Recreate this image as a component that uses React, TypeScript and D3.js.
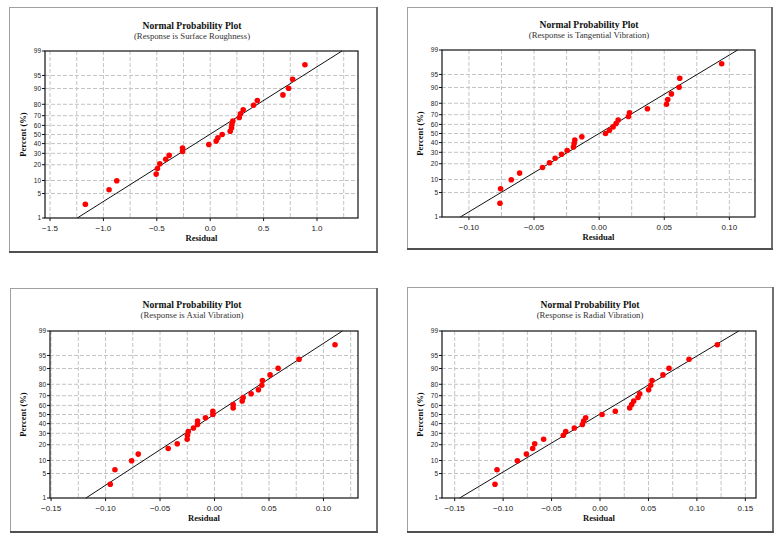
import React from "react";
import * as d3 from "d3";

const percents = [2.6, 6.2, 9.9, 13.5, 17.2, 20.8, 24.5, 28.1, 31.8, 35.4, 39.1, 42.7, 46.4, 50, 53.6, 57.3, 60.9, 64.6, 68.2, 71.9, 75.5, 79.2, 82.8, 86.5, 90.1, 93.8, 97.4];
const yTicks = [1, 5, 10, 20, 30, 40, 50, 60, 70, 80, 90, 95, 99];

const responses = ["Surface Roughness", "Tangential Vibration", "Axial Vibration", "Radial Vibration"];

const resSurface = [-1.169, -0.947, -0.875, -0.506, -0.494, -0.472, -0.416, -0.384, -0.259, -0.259, -0.013, 0.056, 0.072, 0.112, 0.187, 0.2, 0.203, 0.212, 0.272, 0.284, 0.309, 0.406, 0.441, 0.681, 0.734, 0.772, 0.887];
const resTangential = [-0.0762, -0.0757, -0.0675, -0.0611, -0.0435, -0.0381, -0.0338, -0.0289, -0.0246, -0.0197, -0.0192, -0.0187, -0.0133, 0.0049, 0.0079, 0.0107, 0.013, 0.0146, 0.0225, 0.0233, 0.0371, 0.0517, 0.0527, 0.0555, 0.0614, 0.0619, 0.0941];
const resAxial = [-0.0957, -0.0914, -0.0761, -0.07, -0.0425, -0.0342, -0.0251, -0.0248, -0.0241, -0.0193, -0.0156, -0.0156, -0.0083, -0.0015, -0.0015, 0.0171, 0.0171, 0.0254, 0.0263, 0.0336, 0.0403, 0.0434, 0.044, 0.051, 0.0584, 0.0776, 0.1106];
const resRadial = [-0.1084, -0.1063, -0.0853, -0.076, -0.0695, -0.0674, -0.0582, -0.0379, -0.0354, -0.0265, -0.0182, -0.0169, -0.0148, 0.0021, 0.0158, 0.0306, 0.0327, 0.0348, 0.0392, 0.041, 0.0502, 0.0523, 0.0537, 0.065, 0.0712, 0.0919, 0.1211];

// fitted line: residual at 1% and at 99%
const fitSurface = [-1.245, 1.234];
const fitTangential = [-0.1066, 0.1064];
const fitAxial = [-0.118, 0.1174];
const fitRadial = [-0.1449, 0.1432];

const xTicksSurface = [-1.5, -1.0, -0.5, 0, 0.5, 1.0];
const xTicksTangential = [-0.1, -0.05, 0, 0.05, 0.1];
const xTicksAxial = [-0.15, -0.1, -0.05, 0, 0.05, 0.1];
const xTicksRadial = [-0.15, -0.1, -0.05, 0, 0.05, 0.1, 0.15];

// inverse normal CDF (Acklam)
function probit(p: number): number {
  const a = [-3.969683028665376e1, 2.209460984245205e2, -2.759285104469687e2, 1.38357751867269e2, -3.066479806614716e1, 2.506628277459239];
  const b = [-5.447609879822406e1, 1.615858368580409e2, -1.556989798598866e2, 6.680131188771972e1, -1.328068155288572e1];
  const c = [-7.784894002430293e-3, -3.223964580411365e-1, -2.400758277161838, -2.549671324505583, 4.374664141464968, 2.938163982698783];
  const d = [7.784695709041462e-3, 3.224671290700398e-1, 2.445134137142996, 3.754408661907416];
  const pl = 0.02425;
  if (p < pl) {
    const q = Math.sqrt(-2 * Math.log(p));
    return (((((c[0] * q + c[1]) * q + c[2]) * q + c[3]) * q + c[4]) * q + c[5]) / ((((d[0] * q + d[1]) * q + d[2]) * q + d[3]) * q + 1);
  }
  if (p > 1 - pl) {
    const q = Math.sqrt(-2 * Math.log(1 - p));
    return -(((((c[0] * q + c[1]) * q + c[2]) * q + c[3]) * q + c[4]) * q + c[5]) / ((((d[0] * q + d[1]) * q + d[2]) * q + d[3]) * q + 1);
  }
  const q = p - 0.5;
  const r = q * q;
  return ((((((a[0] * r + a[1]) * r + a[2]) * r + a[3]) * r + a[4]) * r + a[5]) * q) / (((((b[0] * r + b[1]) * r + b[2]) * r + b[3]) * r + b[4]) * r + 1);
}

type PanelCfg = {
  frame: number[];
  plot: number[];
  xDomain: number[];
  gridStep: number;
  decimals: number;
  titleX: number;
  titleY: number;
  labelX: number;
  tickY: number;
  resY: number;
};

const layouts: PanelCfg[] = [
  { frame: [9, 7, 377, 252], plot: [45, 51, 358, 218], xDomain: [-1.547, 1.384], gridStep: 0.25, decimals: 1, titleX: 192, titleY: 29, labelX: 26, tickY: 231, resY: 241 },
  { frame: [407, 7, 772, 249], plot: [442, 50, 755, 217], xDomain: [-0.1207, 0.1197], gridStep: 0.025, decimals: 2, titleX: 589, titleY: 28, labelX: 423, tickY: 230, resY: 240 },
  { frame: [10, 288, 377, 532], plot: [50, 331, 358, 498], xDomain: [-0.151, 0.1317], gridStep: 0.025, decimals: 2, titleX: 192, titleY: 308, labelX: 26, tickY: 511, resY: 521 },
  { frame: [407, 287, 773, 532], plot: [442, 331, 756, 498], xDomain: [-0.1631, 0.161], gridStep: 0.025, decimals: 2, titleX: 590, titleY: 308, labelX: 423, tickY: 511, resY: 521 },
];

const residuals = [resSurface, resTangential, resAxial, resRadial];
const fits = [fitSurface, fitTangential, fitAxial, fitRadial];
const xTicks = [xTicksSurface, xTicksTangential, xTicksAxial, xTicksRadial];

const SERIF = "'Liberation Serif', 'Times New Roman', serif";
const SANS = "'Liberation Sans', Arial, sans-serif";

function Panel({ idx }: { idx: number }) {
  const L = layouts[idx];
  const [fx0, fy0, fx1, fy1] = L.frame;
  const [px0, py0, px1, py1] = L.plot;
  const zMax = probit(0.99);
  const x = d3.scaleLinear().domain(L.xDomain).range([px0, px1]);
  const yz = d3.scaleLinear().domain([-zMax, zMax]).range([py1, py0]);
  const y = (p: number) => yz(probit(p / 100));
  const res = residuals[idx];
  const fit = fits[idx];

  const gridXs: number[] = [];
  const start = Math.ceil(L.xDomain[0] / L.gridStep - 1e-6);
  const end = Math.floor(L.xDomain[1] / L.gridStep + 1e-6);
  for (let k = start; k <= end; k++) gridXs.push(k * L.gridStep);

  const line = d3.line<number[]>().x((d) => x(d[0])).y((d) => y(d[1]));
  const fmt = d3.format(`.${L.decimals}f`);

  return (
    <g>
      <rect x={fx0 + 0.5} y={fy0 + 0.5} width={fx1 - fx0} height={fy1 - fy0} fill="#fff" stroke="#a0a0a0" strokeWidth={1} />
      <line x1={fx1} y1={fy0} x2={fx1} y2={fy1 + 1} stroke="#707070" strokeWidth={2} />
      <line x1={fx0} y1={fy1} x2={fx1 + 1} y2={fy1} stroke="#505050" strokeWidth={2} />
      <text x={L.titleX} y={L.titleY} textAnchor="middle" fontFamily={SERIF} fontWeight="bold" fontSize={9.6} fill="#111">
        Normal Probability Plot
      </text>
      <text x={L.titleX} y={L.titleY + 10} textAnchor="middle" fontFamily={SERIF} fontSize={8.7} fill="#333">
        (Response is {responses[idx]})
      </text>
      {/* grid */}
      {gridXs.map((g, i) => (
        <line key={`gx${i}`} x1={x(g)} x2={x(g)} y1={py0} y2={py1} stroke="#c4c4c4" strokeWidth={1} strokeDasharray="4,2" />
      ))}
      {yTicks.slice(1, -1).map((t, i) => (
        <line key={`gy${i}`} x1={px0} x2={px1} y1={y(t)} y2={y(t)} stroke="#c4c4c4" strokeWidth={1} strokeDasharray="4,2" />
      ))}
      {/* fitted line */}
      <path d={line([[fit[0], 1], [fit[1], 99]]) || ""} fill="none" stroke="#111" strokeWidth={1} />
      {/* points */}
      {res.map((r, i) => (
        <circle key={`p${i}`} cx={x(r)} cy={y(percents[i])} r={2.8} fill="#ff0000" />
      ))}
      {/* plot border */}
      <rect x={px0} y={py0} width={px1 - px0} height={py1 - py0} fill="none" stroke="#111" strokeWidth={1.2} />
      {/* x ticks */}
      {xTicks[idx].map((t, i) => (
        <g key={`xt${i}`}>
          <line x1={x(t)} x2={x(t)} y1={py1} y2={py1 + 3} stroke="#111" strokeWidth={1} />
          <text x={x(t)} y={L.tickY} textAnchor="middle" fontFamily={SANS} fontSize={8} fill="#222">
            {fmt(t)}
          </text>
        </g>
      ))}
      {/* y ticks */}
      {yTicks.map((t, i) => (
        <g key={`yt${i}`}>
          <line x1={px0 - 3} x2={px0} y1={y(t)} y2={y(t)} stroke="#111" strokeWidth={1} />
          <text x={px0 - 4} y={y(t) + 2.3} textAnchor="end" fontFamily={SANS} fontSize={6.5} fill="#222">
            {t}
          </text>
        </g>
      ))}
      <text x={(px0 + px1) / 2} y={L.resY} textAnchor="middle" fontFamily={SERIF} fontWeight="bold" fontSize={8.6} fill="#111">
        Residual
      </text>
      <text
        transform={`translate(${L.labelX},${(py0 + py1) / 2}) rotate(-90)`}
        textAnchor="middle"
        fontFamily={SERIF}
        fontWeight="bold"
        fontSize={8.6}
        fill="#111"
      >
        Percent (%)
      </text>
    </g>
  );
}

export default function App() {
  return (
    <svg width={782} height={541} style={{ position: "absolute", left: 0, top: 0, background: "#fff" }}>
      <rect x={0} y={0} width={782} height={541} fill="#fff" />
      {layouts.map((_, i) => (
        <Panel key={i} idx={i} />
      ))}
    </svg>
  );
}
